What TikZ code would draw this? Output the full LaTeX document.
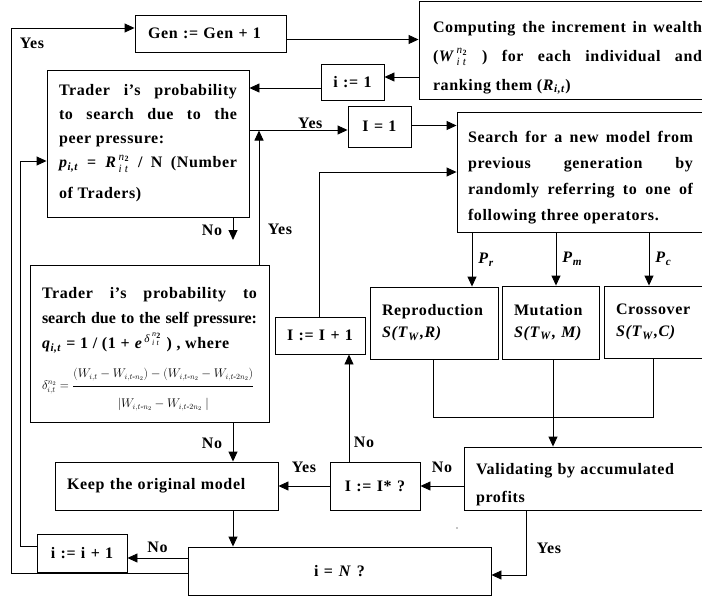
\documentclass[tikz,border=0pt]{standalone}
\usepackage{amsmath}
\usepackage{graphicx}
\usepackage{fontspec}
\setmainfont{Liberation Serif}[LetterSpace=4]
\usetikzlibrary{arrows.meta,calc}
\newcommand{\bi}[1]{\textbf{\textit{#1}}}
\newcommand{\li}[1]{\textmd{\textit{#1}}}
\begin{document}
\begin{tikzpicture}[x=1pt,y=-1pt,
  box/.style={draw, line width=0.9pt, inner xsep=12pt, inner ysep=0pt, font=\bfseries\fontsize{16}{24}\selectfont},
  arr/.style={line width=0.9pt, -{Triangle[length=10pt,width=9pt]}},
  ln/.style={line width=0.9pt},
  lab/.style={font=\bfseries\fontsize{16}{20}\selectfont, inner sep=1pt}]
\clip (0,0) rectangle (702,598);
% boxes
\node[box, inner xsep=13pt, text width=125pt, minimum height=37pt, align=left] (gen) at (210.5,33.5) {Gen := Gen + 1};
\node[box, inner xsep=14pt, text width=269pt, minimum height=98pt, align=justify, font=\bfseries\fontsize{16}{29}\selectfont] (comp) at (567.5,50)
 {\rule{0pt}{27pt}Computing the increment in wealth\linebreak
  (\bi{W}$^{\,\li{n}_{\text{2}}}_{\,\li{i t}}$ ) for each individual and\linebreak
  ranking them (\bi{R}$_{\bi{i,t}}$)};
\node[box, inner xsep=4pt, text width=55pt, minimum height=36pt, align=center] (ione) at (352.5,82) {i := 1};
\node[box, text width=178pt, minimum height=147pt, align=justify] (peer) at (148,143.5)
 {Trader i’s probability\linebreak to search due to the\linebreak peer pressure:\newline
  \bi{p}$_{\bi{i,t}}$ = \bi{R}$^{\,\li{n}_{\text{2}}}_{\,\li{i t}}$ / N (Number\vspace{7pt}\linebreak of Traders)};
\node[box, inner xsep=4pt, text width=55pt, minimum height=41pt, align=center] (Ieq1) at (379.5,126.5) {I = 1};
\node[box, inner xsep=11pt, text width=225pt, minimum height=120pt, align=justify, font=\bfseries\fontsize{16}{26}\selectfont] (search) at (580.5,172)
 {\rule{0pt}{23pt}Search for a new model from\linebreak previous generation by\linebreak randomly referring to one of\linebreak following three operators.};
\node[box, text width=104pt, minimum height=72pt, align=left, font=\bfseries\fontsize{16}{22}\selectfont] (repro) at (434,323)
 {Reproduction\\ \bi{S(T}$_{\bi{W}}$\bi{,R)}};
\node[box, text width=73pt, minimum height=73pt, align=left, font=\bfseries\fontsize{16}{22}\selectfont] (mut) at (550.5,322.5)
 {Mutation\\ \bi{S(T}$_{\bi{W}}$\bi{, M)}};
\node[box, text width=92pt, minimum height=72pt, align=left, font=\bfseries\fontsize{16}{22}\selectfont] (cross) at (662,322)
 {Crossover\\ \bi{S(T}$_{\bi{W}}$\bi{,C)}};
\node[box, text width=215pt, minimum height=157pt, align=justify, font=\bfseries\fontsize{16}{25}\selectfont] (self) at (149.5,343.5)
 {\rule{0pt}{23pt}Trader i’s probability to\linebreak
  {\addfontfeature{LetterSpace=0}search due to the self pressure:}\linebreak
  \bi{q}$_{\bi{i,t}}$ = 1 / (1 + \bi{e}$^{\,\li{δ}\,{}^{\li{n}_{\text{2}}}_{\li{i t}}}$ ) , where\par\vspace{14pt}\noindent
  \resizebox{212pt}{!}{$\displaystyle \delta^{n_2}_{i,t}=\frac{\rule[-10pt]{0pt}{0pt}(W_{i,t}-W_{i,t\text{-}n_2})-(W_{i,t\text{-}n_2}-W_{i,t\text{-}2n_2})}{\rule{0pt}{27pt}|W_{i,t\text{-}n_2}-W_{i,t\text{-}2n_2}\;|}$}};
\node[box, inner xsep=4pt, text width=82pt, minimum height=37pt, align=center] (Iinc) at (320,335.5) {I := I + 1};
\node[box, text width=199pt, minimum height=48pt, align=left] (keep) at (166.5,486) {Keep the original model};
\node[box, inner xsep=4pt, text width=82pt, minimum height=48pt, align=center] (Istar) at (375,486) {I := I* ?};
\node[box, text width=240pt, minimum height=63pt, align=left, font=\bfseries\fontsize{16}{28}\selectfont] (valid) at (596,478.5)
 {\rule{0pt}{23pt}Validating by accumulated\\ profits};
\node[box, text width=279pt, minimum height=48pt, align=center] (iN) at (339.5,571) {i = \bi{N} ?};
\node[box, inner xsep=4pt, text width=82pt, minimum height=38pt, align=center] (iinc) at (82,553) {i := i + 1};
% helper coordinates
\coordinate (h1) at (0,39.5);
\coordinate (h2) at (0,77);
\coordinate (h3) at (0,88);
\coordinate (h4) at (0,130);
\coordinate (h5) at (0,125.5);
\coordinate (v1) at (319.5,172);
\coordinate (v2) at (233,240);
\coordinate (v3) at (259,130.5);
\coordinate (h6) at (0,558);
\coordinate (h7) at (20,546);
\coordinate (h8) at (20,161);
\coordinate (h9) at (11,573);
\coordinate (h10) at (11,28);
\coordinate (o1) at (472,0);
\coordinate (o2) at (556,0);
\coordinate (o3) at (649,0);
\coordinate (j1) at (433,417);
\coordinate (j2) at (553,417);
\coordinate (j3) at (653,417);
\coordinate (c3) at (349,0);
\coordinate (c4) at (526,575);
% connectors
\draw[arr] (gen.east |- h1) -- (comp.west |- h1);
\draw[arr] (comp.west |- h2) -- (ione.east |- h2);
\draw[arr] (ione.west |- h3) -- (peer.east |- h3);
\draw[arr] (peer.east |- h4) -- node[lab, above, pos=0.62] {Yes} (Ieq1.west |- h4);
\draw[arr] (Ieq1.east |- h5) -- (search.west |- h5);
\draw[arr] (Iinc.north -| v1) -- (v1) -- (search.west |- v1);
\draw[arr] (peer.south -| v2) -- (v2);
\node[lab] (lno1) at (212,230) {No};
\draw[arr] (self.north -| v3) -- (v3);
\node[lab] (lyes2) at (280,229) {Yes};
\draw[arr] (self.south -| v2) -- (keep.north -| v2);
\node[lab] (lno2) at (212,443) {No};
\draw[arr] (keep.south -| v2) -- (iN.north -| v2);
\draw[arr] (iN.west |- h6) -- node[lab, above=4pt] {No} (iinc.east |- h6);
\draw[arr] (iinc.west |- h7) -- (h7) -- (h8) -- (peer.west |- h8);
\draw[arr] (iN.west |- h9) -- (h9) -- (h10) -- (gen.west |- h10);
\node[lab] (lyes1) at (32,43) {Yes};
\draw[arr] (search.south -| o1) -- node[lab, right=5pt] {\bi{P}$_{\bi{r}}$} (repro.north -| o1);
\draw[arr] (search.south -| o2) -- node[lab, right=5pt] {\bi{P}$_{\bi{m}}$} (mut.north -| o2);
\draw[arr] (search.south -| o3) -- node[lab, right=5pt] {\bi{P}$_{\bi{c}}$} (cross.north -| o3);
\draw[ln] (repro.south -| j1) -- (j1) -- (j3) -- (cross.south -| j3);
\draw[arr] (mut.south -| j2) -- (valid.north -| j2);
\draw[arr] (valid.west |- Istar.east) -- node[lab, above=12pt] {No} (Istar.east);
\draw[arr] (Istar.west) -- node[lab, above=12pt] {Yes} (keep.east);
\draw[arr] (Istar.north -| c3) -- (Iinc.south -| c3);
\node[lab] (lno3) at (364,442) {No};
\draw[arr] (valid.south -| c4) -- (c4) -- (iN.east |- c4);
\node[lab] (lyes3) at (549,548) {Yes};
\fill (457,528) circle (0.7pt);
\end{tikzpicture}
\end{document}
